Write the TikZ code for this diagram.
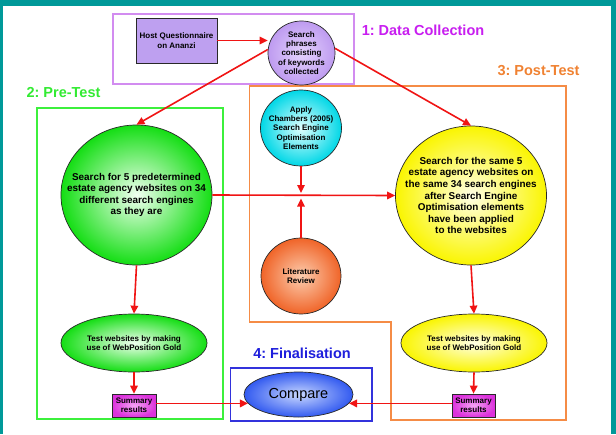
\documentclass[tikz,border=0pt]{standalone}
\usepackage{fontspec}
\setmainfont{Liberation Sans}
\usetikzlibrary{arrows.meta,shapes.geometric,calc}
\frenchspacing
\definecolor{tealbg}{RGB}{0,153,153}
\definecolor{outl}{RGB}{40,40,40}
\definecolor{arrred}{RGB}{240,20,20}
\definecolor{purframe}{RGB}{210,140,240}
\definecolor{grnframe}{RGB}{60,240,60}
\definecolor{orgframe}{RGB}{245,140,70}
\definecolor{bluframe}{RGB}{50,50,220}
\definecolor{purhead}{RGB}{200,30,240}
\definecolor{grnhead}{RGB}{50,235,50}
\definecolor{orghead}{RGB}{240,130,50}
\definecolor{bluhead}{RGB}{30,30,220}
\definecolor{hostfill}{RGB}{190,160,240}
\begin{document}
\begin{tikzpicture}[x=1pt,y=-1pt,
  shp/.style={draw=outl, line width=0.7pt, inner sep=0pt},
  blob/.style={shp, ellipse},
  smalltxt/.style={align=center, inner sep=0pt, font=\bfseries\fontsize{8}{9.4}\selectfont},
  bigtxt/.style={align=center, inner sep=0pt, font=\bfseries\fontsize{9.9}{11.6}\selectfont},
  heading/.style={inner sep=0pt, font=\bfseries\fontsize{14.5}{16}\selectfont},
  arr/.style={draw=arrred, line width=1.6pt, -{Triangle[length=8pt,width=7.5pt]}},
  frm/.style={line width=1.1pt}
]
\useasboundingbox (0,0) rectangle (616,434);
\fill[tealbg] (0,0) rectangle (616,434);
\fill[white] (3,6) rectangle (610.5,434);

% frames
\draw[frm, purframe] (113,14) rectangle (354,84);
\draw[frm, grnframe] (37,108) rectangle (223,419);
\draw[frm, orgframe] (249.5,86) -- (566,86) -- (566,420) -- (391,420) -- (391,322) -- (249.5,322) -- cycle;
\draw[frm, bluframe] (230.7,368) rectangle (372,421);

% headings
\node[heading, text=purhead] (h1) at (423,30) {1: Data Collection};
\node[heading, text=grnhead] (h2) at (63.5,93) {2: Pre-Test};
\node[heading, text=orghead] (h3) at (538.5,71) {3: Post-Test};
\node[heading, text=bluhead] (h4) at (302,353) {4: Finalisation};

% shapes
\node[shp, rectangle, fill=hostfill, minimum width=81, minimum height=45] (host) at (176.5,40.5) {};
\node[smalltxt] (hostT) at (host) {Host Questionnaire\\on Ananzi};

\node[blob, inner color={rgb,255:red,228;green,210;blue,252}, outer color={rgb,255:red,190;green,155;blue,240}, minimum width=67, minimum height=64] (search) at (301.5,53) {};
\node[smalltxt] (searchT) at (search) {Search\\phrases\\consisting\\of keywords\\collected};

\node[blob, inner color={rgb,255:red,240;green,255;blue,240}, outer color={rgb,255:red,20;green,222;blue,20}, minimum width=151, minimum height=140] (green) at (136.5,195) {};
\node[bigtxt] (greenT) at (green) {Search for 5 predetermined\\estate agency websites on 34\\different search engines\\as they are};

\node[blob, inner color={rgb,255:red,255;green,255;blue,230}, outer color={rgb,255:red,250;green,245;blue,0}, minimum width=151, minimum height=139] (yellow) at (471,195.5) {};
\node[bigtxt] (yellowT) at (yellow) {Search for the same 5\\estate agency websites on\\the same 34 search engines\\after Search Engine\\Optimisation elements\\have been applied\\to the websites};

\node[blob, inner color={rgb,255:red,225;green,255;blue,255}, outer color={rgb,255:red,0;green,215;blue,230}, minimum width=81, minimum height=76] (cyan) at (301,128) {};
\node[smalltxt] (cyanT) at (cyan) {Apply\\Chambers (2005)\\Search Engine\\Optimisation\\Elements};

\node[blob, inner color={rgb,255:red,252;green,205;blue,175}, outer color={rgb,255:red,240;green,100;blue,40}, minimum width=80, minimum height=76] (lit) at (301,276) {};
\node[smalltxt] (litT) at (lit) {Literature\\Review};

\node[blob, inner color={rgb,255:red,240;green,255;blue,240}, outer color={rgb,255:red,20;green,222;blue,20}, minimum width=146, minimum height=58] (gell) at (134,343) {};
\node[smalltxt] (gellT) at (gell) {Test websites by making\\use of WebPosition Gold};

\node[blob, inner color={rgb,255:red,255;green,255;blue,230}, outer color={rgb,255:red,250;green,245;blue,0}, minimum width=146, minimum height=58] (yell) at (474,343) {};
\node[smalltxt] (yellT) at (yell) {Test websites by making\\use of WebPosition Gold};

\node[shp, rectangle, inner color={rgb,255:red,245;green,165;blue,245}, outer color={rgb,255:red,220;green,50;blue,220}, minimum width=44, minimum height=23] (sumL) at (134,405.5) {};
\node[smalltxt] (sumLT) at (sumL) {Summary\\results};

\node[shp, rectangle, inner color={rgb,255:red,245;green,165;blue,245}, outer color={rgb,255:red,220;green,50;blue,220}, minimum width=43, minimum height=23] (sumR) at (473.5,405.5) {};
\node[smalltxt] (sumRT) at (sumR) {Summary\\results};

\node[blob, inner color={rgb,255:red,200;green,215;blue,255}, outer color={rgb,255:red,50;green,90;blue,240}, minimum width=109, minimum height=45, font=\fontsize{14.5}{16}\selectfont] (cmp) at (298.5,394.5) {Compare};

% connectors
\draw[arr] (host.east) -- (host.east -| search.west);
\draw[arr] (search.174) -- (green.north);
\draw[arr] (search.8) -- (yellow.north);
\draw[arr] (green.east) -- (yellow.west);
\coordinate (jn) at (cyan.south |- green.east);
\draw[arr] (cyan.south) -- ($(jn)+(0,-2)$);
\draw[arr] (lit.north) -- ($(jn)+(0,3.5)$);
\draw[arr] (green.south) -- (gell.north);
\draw[arr] (yellow.south) -- (yell.north);
\draw[arr] (gell.south) -- (sumL.north);
\draw[arr] (yell.south) -- (sumR.north);
\draw[arr] (sumL.east |- cmp.190) -- (cmp.190);
\draw[arr] (sumR.west |- cmp.-10) -- (cmp.-10);
\end{tikzpicture}
\end{document}
